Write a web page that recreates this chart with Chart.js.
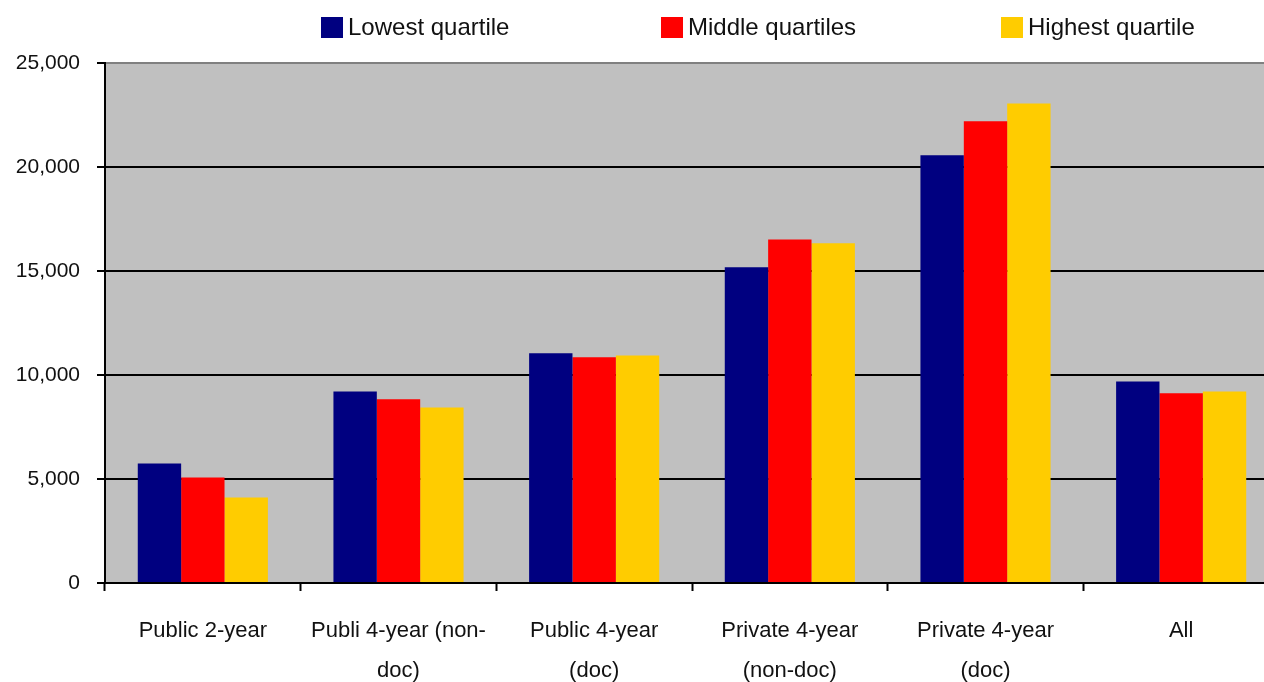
<!DOCTYPE html>
<html>
<head>
<meta charset="utf-8">
<script src="https://cdn.jsdelivr.net/npm/chart.js@4/dist/chart.umd.min.js"></script>
<style>
  html, body { margin: 0; padding: 0; background: #fff; overflow: hidden; }
  #wrap { width: 1280px; height: 682px; position: relative; }
</style>
</head>
<body>
<div id="wrap"><canvas id="chart"></canvas></div>
<script>
const categories = [
  "Public 2-year",
  ["Publi 4-year (non-", "doc)"],
  ["Public 4-year", "(doc)"],
  ["Private 4-year", "(non-doc)"],
  ["Private 4-year", "(doc)"],
  "All"
];
const seriesNames = ["Lowest quartile", "Middle quartiles", "Highest quartile"];
const lowest = [5750, 9210, 11040, 15180, 20560, 9690];
const middle = [5070, 8830, 10850, 16520, 22200, 9120];
const highest = [4110, 8440, 10940, 16330, 23050, 9210];
const yTicks = [0, 5000, 10000, 15000, 20000, 25000];

const colors = ["#000080", "#FF0000", "#FFCC00"];
const FONT = "'Liberation Sans', Arial, sans-serif";

// grey plot area like the old spreadsheet charts
const plotBackground = {
  id: "plotBackground",
  beforeDraw(chart) {
    const { ctx, chartArea: a } = chart;
    ctx.save();
    ctx.fillStyle = "#C0C0C0";
    ctx.fillRect(a.left, a.top, a.right - a.left, a.bottom - a.top);
    ctx.restore();
  }
};

// legend spread across the top, drawn from the datasets
const topLegend = {
  id: "topLegend",
  afterDraw(chart) {
    const { ctx, chartArea: a } = chart;
    ctx.save();
    ctx.font = "24px " + FONT;
    ctx.textBaseline = "middle";
    ctx.textAlign = "left";
    chart.data.datasets.forEach((ds, i) => {
      const x = a.left + 216 + i * 340;
      ctx.fillStyle = ds.backgroundColor;
      ctx.fillRect(x, 17, 22, 21);
      ctx.fillStyle = "#111";
      ctx.fillText(ds.label, x + 27, 28);
    });
    ctx.restore();
  }
};

new Chart(document.getElementById("chart"), {
  type: "bar",
  data: {
    labels: categories,
    datasets: [
      { label: seriesNames[0], data: lowest, backgroundColor: colors[0] },
      { label: seriesNames[1], data: middle, backgroundColor: colors[1] },
      { label: seriesNames[2], data: highest, backgroundColor: colors[2] }
    ]
  },
  options: {
    responsive: true,
    maintainAspectRatio: false,
    animation: false,
    layout: { padding: { top: 63, right: 1, left: 0, bottom: 0 } },
    datasets: {
      bar: { barPercentage: 1, categoryPercentage: 0.665, borderWidth: 0 }
    },
    plugins: {
      legend: { display: false },
      tooltip: { enabled: false }
    },
    scales: {
      x: {
        offset: true,
        grid: {
          offset: true,
          drawOnChartArea: false,
          drawTicks: true,
          tickLength: 8,
          tickWidth: 2,
          tickColor: "#000"
        },
        border: { color: "#000", width: 2 },
        ticks: {
          color: "#111",
          padding: 20,
          maxRotation: 0,
          autoSkip: false,
          font: { family: FONT, size: 22, lineHeight: 1.82 }
        },
        afterFit(scale) { scale.height = 99; }
      },
      y: {
        min: 0,
        max: 25000,
        afterBuildTicks(scale) { scale.ticks = yTicks.map(v => ({ value: v })); },
        grid: {
          color: ctx => (ctx.tick && ctx.tick.value === 25000 ? "#808080" : "#000"),
          lineWidth: 2,
          tickLength: 8,
          tickWidth: 2,
          tickColor: "#000"
        },
        border: { color: "#000", width: 2 },
        ticks: {
          color: "#111",
          padding: 17,
          font: { family: FONT, size: 21 },
          callback: v => v.toLocaleString("en-US")
        },
        afterFit(scale) { scale.width = 105; }
      }
    }
  },
  plugins: [plotBackground, topLegend]
});
</script>
</body>
</html>
